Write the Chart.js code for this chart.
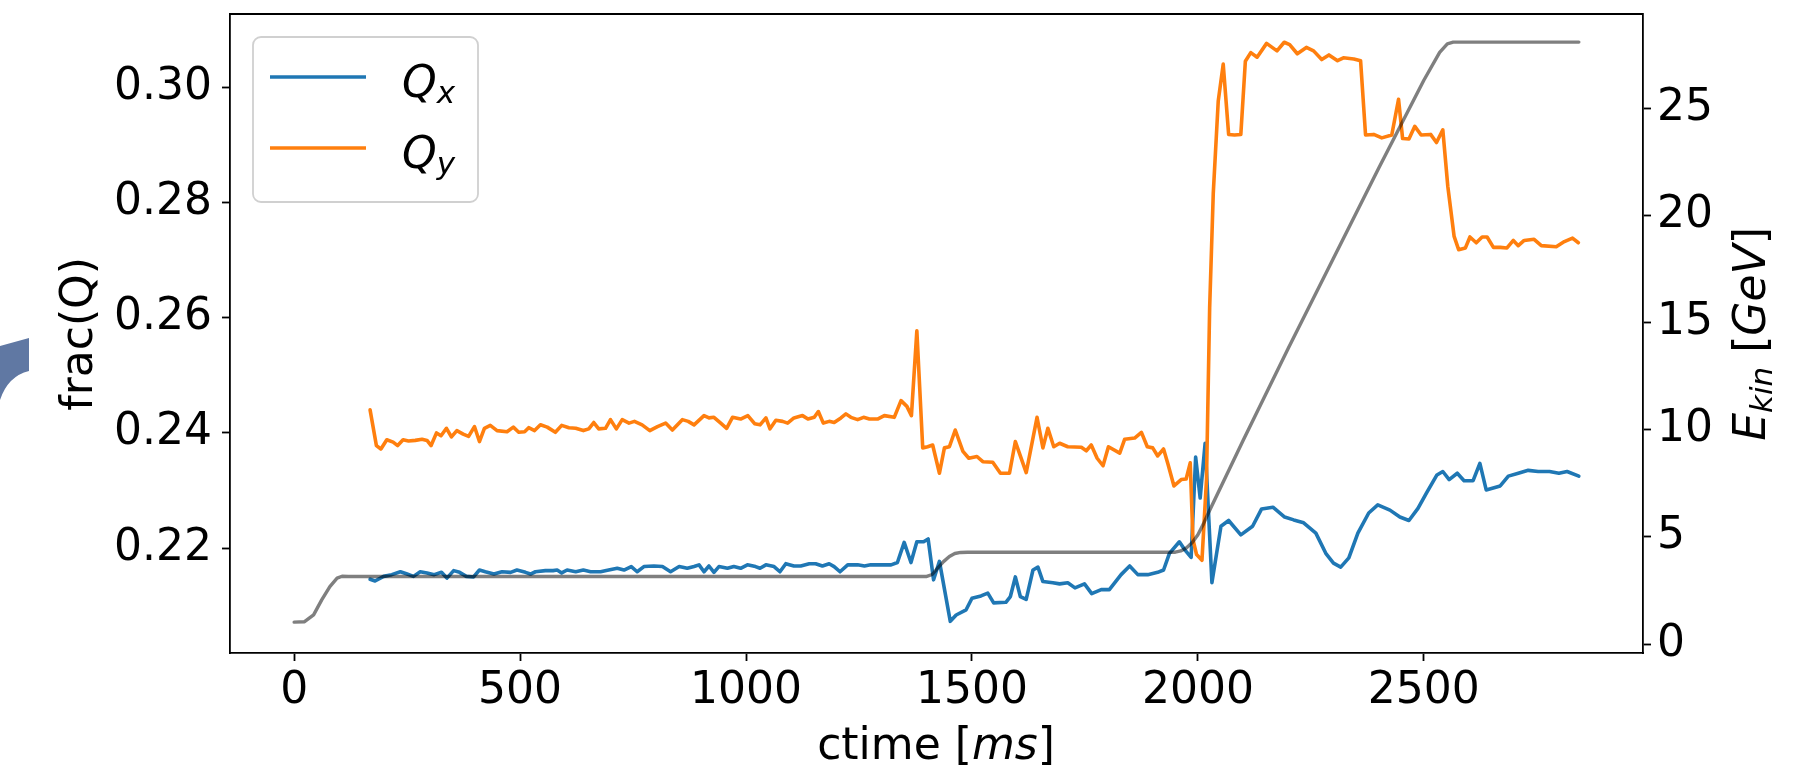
<!DOCTYPE html>
<html>
<head>
<meta charset="utf-8">
<script src="https://cdn.jsdelivr.net/npm/chart.js@4.4.1/dist/chart.umd.min.js"></script>
<style>
    html, body { margin: 0; padding: 0; background: #fff; }
    #wrap { width: 1808px; height: 776px; position: relative; }
</style>
</head>
<body>
<div id="wrap"><canvas id="Graph"></canvas></div>
<script>
// tick labels
const xTicks = [0, 500, 1000, 1500, 2000, 2500];
const qTicks = [0.22, 0.24, 0.26, 0.28, 0.30];
const eTicks = [0, 5, 10, 15, 20, 25];

// Q_x
const qxTime = [168, 179, 198, 216, 235, 250, 264, 279, 294, 310, 326, 338, 353, 366, 381, 397, 410, 423, 442, 460,
    479, 493, 512, 523, 534, 556, 573, 582, 592, 604, 623, 640, 656, 678, 696, 715, 730, 746, 759, 774,
    796, 815, 833, 852, 870, 885, 896, 907, 918, 929, 940, 959, 973, 988, 1003, 1021, 1031, 1044, 1062, 1075,
    1088, 1106, 1121, 1140, 1154, 1169, 1184, 1195, 1208, 1225, 1247, 1262, 1276, 1298, 1321, 1335, 1350, 1365, 1378, 1393,
    1403, 1415, 1428, 1452, 1465, 1487, 1500, 1520, 1535, 1548, 1575, 1585, 1596, 1607, 1620, 1635, 1646, 1657, 1679, 1694,
    1712, 1728, 1749, 1765, 1786, 1804, 1830, 1849, 1867, 1889, 1911, 1924, 1937, 1959, 1972, 1985, 1995, 2005, 2016, 2031,
    2051, 2068, 2095, 2121, 2141, 2166, 2192, 2212, 2234, 2261, 2283, 2300, 2316, 2334, 2354, 2378, 2398, 2425, 2447, 2467,
    2487, 2506, 2529, 2542, 2556, 2574, 2589, 2609, 2624, 2638, 2669, 2687, 2709, 2731, 2753, 2778, 2799, 2817, 2843];
const qxValue = [0.2146, 0.2143, 0.2151, 0.2154, 0.2159, 0.2155, 0.2151, 0.2159, 0.2157, 0.2154, 0.2158, 0.2148, 0.2161, 0.2158, 0.2151, 0.2150, 0.2162, 0.2159, 0.2155, 0.2159,
    0.2158, 0.2162, 0.2158, 0.2155, 0.2159, 0.2161, 0.2161, 0.2162, 0.2157, 0.2162, 0.2159, 0.2162, 0.2159, 0.2159, 0.2162, 0.2165, 0.2162, 0.2168, 0.2159, 0.2168,
    0.2169, 0.2168, 0.2159, 0.2168, 0.2165, 0.2168, 0.2171, 0.2159, 0.2169, 0.2158, 0.2168, 0.2165, 0.2168, 0.2165, 0.2171, 0.2168, 0.2165, 0.2171, 0.2168, 0.2159,
    0.2173, 0.2169, 0.2169, 0.2173, 0.2173, 0.2169, 0.2173, 0.2168, 0.2159, 0.2171, 0.2171, 0.2169, 0.2171, 0.2171, 0.2171, 0.2175, 0.2210, 0.2175, 0.2211, 0.2211,
    0.2216, 0.2145, 0.2177, 0.2073, 0.2084, 0.2093, 0.2113, 0.2117, 0.2122, 0.2105, 0.2106, 0.2116, 0.2150, 0.2116, 0.2111, 0.2162, 0.2167, 0.2142, 0.2140, 0.2138,
    0.2140, 0.2131, 0.2138, 0.2121, 0.2128, 0.2128, 0.2154, 0.2169, 0.2154, 0.2154, 0.2158, 0.2162, 0.2191, 0.2211, 0.2196, 0.2184, 0.2358, 0.2287, 0.2382, 0.2140,
    0.2238, 0.2248, 0.2223, 0.2238, 0.2268, 0.2271, 0.2254, 0.2249, 0.2244, 0.2226, 0.2191, 0.2174, 0.2167, 0.2183, 0.2226, 0.2261, 0.2275, 0.2266, 0.2254, 0.2248,
    0.2269, 0.2296, 0.2327, 0.2333, 0.2319, 0.2330, 0.2317, 0.2317, 0.2347, 0.2301, 0.2308, 0.2325, 0.2330, 0.2335, 0.2333, 0.2333, 0.2330, 0.2333, 0.2325];

// Q_y
const qyTime = [168, 182, 192, 205, 219, 229, 241, 253, 268, 283, 294, 303, 315, 325, 337, 348, 360, 374, 386, 399,
    410, 421, 434, 449, 471, 485, 497, 510, 519, 532, 545, 560, 578, 592, 608, 623, 640, 652, 663, 674,
    689, 700, 713, 726, 741, 753, 770, 787, 804, 822, 837, 859, 872, 885, 907, 918, 929, 944, 957, 970,
    988, 1004, 1019, 1031, 1044, 1053, 1066, 1081, 1092, 1106, 1125, 1137, 1151, 1160, 1171, 1184, 1195, 1210, 1221, 1232,
    1247, 1260, 1273, 1291, 1306, 1328, 1343, 1356, 1366, 1378, 1391, 1402, 1413, 1428, 1439, 1450, 1463, 1480, 1493, 1511,
    1524, 1546, 1563, 1583, 1596, 1620, 1644, 1657, 1668, 1681, 1694, 1712, 1742, 1753, 1764, 1777, 1790, 1802, 1827, 1838,
    1860, 1875, 1888, 1900, 1911, 1924, 1934, 1947, 1963, 1974, 1983, 1989, 1997, 2009, 2019, 2026, 2034, 2045, 2056, 2068,
    2081, 2095, 2105, 2117, 2131, 2152, 2175, 2191, 2203, 2220, 2240, 2256, 2274, 2290, 2309, 2322, 2345, 2360, 2371, 2389,
    2407, 2429, 2444, 2453, 2467, 2480, 2494, 2515, 2528, 2542, 2553, 2567, 2577, 2592, 2602, 2616, 2629, 2640, 2654, 2669,
    2684, 2698, 2709, 2722, 2744, 2760, 2793, 2811, 2829, 2842];
const qyValue = [0.2440, 0.2378, 0.2372, 0.2388, 0.2384, 0.2378, 0.2388, 0.2386, 0.2387, 0.2389, 0.2387, 0.2378, 0.2400, 0.2395, 0.2408, 0.2393, 0.2404, 0.2398, 0.2394, 0.2411,
    0.2385, 0.2408, 0.2413, 0.2404, 0.2402, 0.2410, 0.2401, 0.2402, 0.2409, 0.2404, 0.2414, 0.2410, 0.2401, 0.2413, 0.2409, 0.2408, 0.2404, 0.2407, 0.2418, 0.2407,
    0.2408, 0.2423, 0.2407, 0.2423, 0.2417, 0.2420, 0.2414, 0.2404, 0.2411, 0.2417, 0.2405, 0.2423, 0.2420, 0.2414, 0.2430, 0.2426, 0.2427, 0.2417, 0.2408, 0.2427,
    0.2424, 0.2430, 0.2416, 0.2414, 0.2426, 0.2407, 0.2422, 0.2420, 0.2417, 0.2426, 0.2430, 0.2424, 0.2427, 0.2437, 0.2417, 0.2420, 0.2418, 0.2426, 0.2433, 0.2427,
    0.2423, 0.2427, 0.2424, 0.2424, 0.2430, 0.2427, 0.2456, 0.2446, 0.2430, 0.2577, 0.2374, 0.2376, 0.2379, 0.2330, 0.2374, 0.2376, 0.2405, 0.2368, 0.2356, 0.2359,
    0.2350, 0.2349, 0.2330, 0.2330, 0.2385, 0.2331, 0.2427, 0.2374, 0.2408, 0.2376, 0.2382, 0.2376, 0.2375, 0.2369, 0.2379, 0.2356, 0.2343, 0.2376, 0.2365, 0.2389,
    0.2391, 0.2401, 0.2376, 0.2374, 0.2360, 0.2372, 0.2345, 0.2308, 0.2319, 0.2320, 0.2348, 0.2215, 0.2189, 0.2179, 0.2319, 0.2617, 0.2816, 0.2976, 0.3040, 0.2918,
    0.2917, 0.2918, 0.3045, 0.3060, 0.3052, 0.3076, 0.3063, 0.3078, 0.3074, 0.3058, 0.3069, 0.3063, 0.3048, 0.3056, 0.3046, 0.3051, 0.3049, 0.3046, 0.2917, 0.2918,
    0.2912, 0.2917, 0.2979, 0.2911, 0.2910, 0.2932, 0.2917, 0.2918, 0.2904, 0.2926, 0.2828, 0.2741, 0.2718, 0.2721, 0.2740, 0.2730, 0.2740, 0.2740, 0.2722, 0.2722,
    0.2721, 0.2734, 0.2725, 0.2734, 0.2736, 0.2725, 0.2723, 0.2732, 0.2738, 0.2730];

// kinetic energy (right axis, GeV)
const eTime = [0, 23, 43, 61, 79, 95, 106, 120, 1400, 1412, 1424, 1437, 1450, 1462, 1475, 1490,
    1950, 1962, 1975, 1988, 2000, 2012, 2025, 2100, 2200, 2300, 2400, 2500, 2535, 2552, 2565, 2843];
const eValue = [1.03, 1.05, 1.37, 2.07, 2.69, 3.08, 3.17, 3.16, 3.16, 3.25, 3.55, 3.85, 4.09, 4.23, 4.28, 4.29,
    4.29, 4.35, 4.5, 4.75, 5.1, 5.6, 6.2, 9.5, 13.8, 18.0, 22.2, 26.3, 27.6, 28.0, 28.08, 28.08];

const FONT = '"DejaVu Sans"';

function toPoints(xs, ys) {
    return xs.map((x, i) => ({ x: x, y: ys[i] }));
}

function fontOf(run) {
    return (run.it ? 'italic ' : '') + (run.size || 44) + 'px ' + FONT;
}

// draws a row of text pieces, some italic / subscript
function drawRuns(ctx, runs, x, y, align) {
    let total = 0;
    runs.forEach(r => {
        ctx.font = fontOf(r);
        r.w = ctx.measureText(r.t).width;
        total += r.w;
    });
    let cx = align === 'center' ? x - total / 2 : x;
    ctx.textAlign = 'left';
    ctx.textBaseline = 'alphabetic';
    runs.forEach(r => {
        ctx.font = fontOf(r);
        ctx.fillText(r.t, cx, y + (r.dy || 0));
        cx += r.w;
    });
}

const decorations = {
    id: 'decorations',
    afterDraw(chart) {
        const ctx = chart.ctx;
        const area = chart.chartArea;
        ctx.save();

        // top spine
        ctx.strokeStyle = '#000';
        ctx.lineWidth = 1.8;
        ctx.beginPath();
        ctx.moveTo(area.left, area.top);
        ctx.lineTo(area.right, area.top);
        ctx.stroke();

        // legend box
        ctx.beginPath();
        ctx.roundRect(253, 37, 225, 165, 8);
        ctx.fillStyle = 'rgba(255,255,255,0.8)';
        ctx.fill();
        ctx.strokeStyle = '#d0d0d0';
        ctx.lineWidth = 1.8;
        ctx.stroke();

        ctx.lineWidth = 3.6;
        ctx.strokeStyle = '#1f77b4';
        ctx.beginPath(); ctx.moveTo(270, 77); ctx.lineTo(366, 77); ctx.stroke();
        ctx.strokeStyle = '#ff7f0e';
        ctx.beginPath(); ctx.moveTo(270, 148); ctx.lineTo(366, 148); ctx.stroke();

        ctx.fillStyle = '#000';
        drawRuns(ctx, [{ t: 'Q', it: true }, { t: 'x', it: true, size: 31, dy: 6 }], 402, 97, 'left');
        drawRuns(ctx, [{ t: 'Q', it: true }, { t: 'y', it: true, size: 31, dy: 6 }], 402, 168, 'left');

        // axis titles
        drawRuns(ctx, [{ t: 'ctime [' }, { t: 'ms', it: true }, { t: ']' }], 936, 759, 'center');

        ctx.save();
        ctx.translate(92, 334);
        ctx.rotate(-Math.PI / 2);
        drawRuns(ctx, [{ t: 'frac(Q)' }], 0, 0, 'center');
        ctx.restore();

        ctx.save();
        ctx.translate(1765, 334);
        ctx.rotate(-Math.PI / 2);
        drawRuns(ctx, [
            { t: 'E', it: true },
            { t: 'kin', it: true, size: 31, dy: 7 },
            { t: ' [' },
            { t: 'GeV', it: true },
            { t: ']' }
        ], 0, 0, 'center');
        ctx.restore();

        // scrap of a slide graphic at the left edge
        ctx.fillStyle = '#6078a3';
        ctx.beginPath();
        ctx.moveTo(0, 346);
        ctx.lineTo(29, 338);
        ctx.lineTo(29, 371);
        ctx.quadraticCurveTo(8, 376, 0, 400);
        ctx.closePath();
        ctx.fill();

        ctx.restore();
    }
};

// no extra room for half-labels at the axis ends: the plot box is fixed
function fixBox(s) {
    s.paddingTop = 0;
    s.paddingBottom = 0;
    s.paddingLeft = 0;
    s.paddingRight = 0;
}

const tickFont = { family: FONT, size: 44 };
const gridStyle = { display: true, drawOnChartArea: false, drawTicks: true, tickLength: 8, tickWidth: 1.8, tickColor: '#000' };
const borderStyle = { display: true, color: '#000', width: 1.8 };

const ctx = document.getElementById('Graph').getContext('2d');

new Chart(ctx, {
    type: 'line',
    data: {
        datasets: [
            {
                label: 'Ekin',
                data: toPoints(eTime, eValue),
                yAxisID: 'y1',
                borderColor: 'rgba(0,0,0,0.5)',
                borderWidth: 3.4,
                pointRadius: 0,
                order: 0
            },
            {
                label: 'Qy',
                data: toPoints(qyTime, qyValue),
                yAxisID: 'y',
                borderColor: '#ff7f0e',
                borderWidth: 3.6,
                pointRadius: 0,
                order: 1
            },
            {
                label: 'Qx',
                data: toPoints(qxTime, qxValue),
                yAxisID: 'y',
                borderColor: '#1f77b4',
                borderWidth: 3.6,
                pointRadius: 0,
                order: 2
            }
        ]
    },
    options: {
        responsive: true,
        maintainAspectRatio: false,
        animation: false,
        events: [],
        layout: { padding: { top: 14, left: 0, right: 0, bottom: 0 } },
        elements: { line: { tension: 0, borderCapStyle: 'round', borderJoinStyle: 'round' } },
        plugins: { legend: { display: false }, tooltip: { enabled: false } },
        scales: {
            x: {
                type: 'linear',
                min: -142,
                max: 2985,
                grid: gridStyle,
                border: borderStyle,
                ticks: { color: '#000', font: tickFont, padding: 4, maxRotation: 0,
                    callback: v => String(v) },
                afterBuildTicks: s => { s.ticks = xTicks.map(v => ({ value: v })); },
                afterFit: s => { s.height = 123; fixBox(s); }
            },
            y: {
                type: 'linear',
                position: 'left',
                min: 0.2018,
                max: 0.3127,
                grid: gridStyle,
                border: borderStyle,
                ticks: { color: '#000', font: tickFont, padding: 10,
                    callback: v => v.toFixed(2) },
                afterBuildTicks: s => { s.ticks = qTicks.map(v => ({ value: v })); },
                afterFit: s => { s.width = 230; fixBox(s); }
            },
            y1: {
                type: 'linear',
                position: 'right',
                min: -0.41,
                max: 29.39,
                grid: gridStyle,
                border: borderStyle,
                ticks: { color: '#000', font: tickFont, padding: 6,
                    callback: v => String(v) },
                afterBuildTicks: s => { s.ticks = eTicks.map(v => ({ value: v })); },
                afterFit: s => { s.width = 165; fixBox(s); }
            }
        }
    },
    plugins: [decorations]
});
</script>
</body>
</html>
